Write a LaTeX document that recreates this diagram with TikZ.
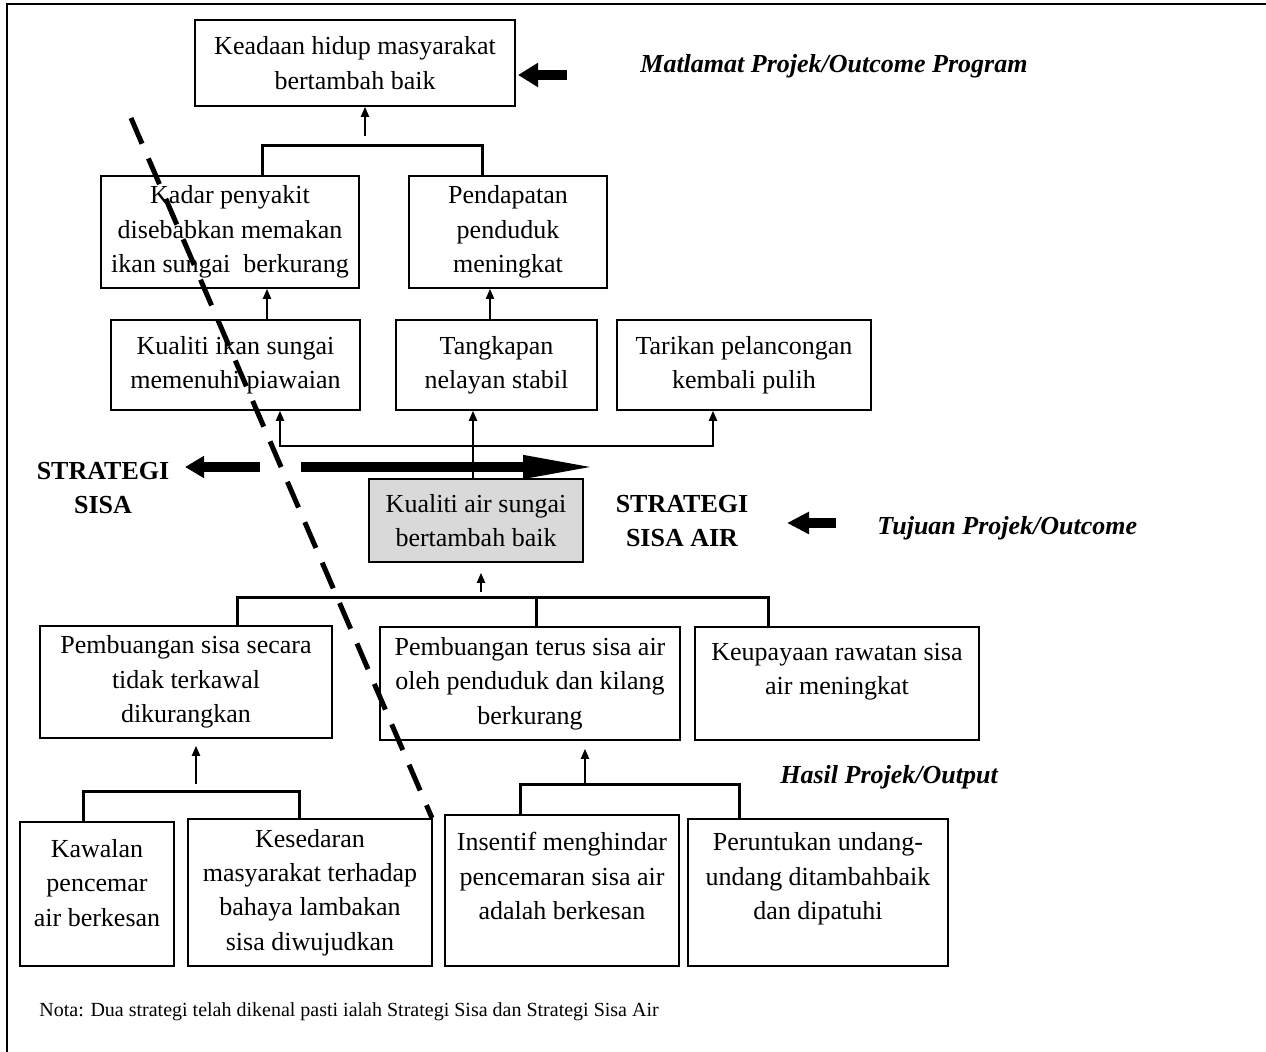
\documentclass[tikz,border=0pt]{standalone}
\usepackage{fontspec}
\setmainfont{Liberation Serif}
\usetikzlibrary{arrows.meta}
\definecolor{kelabu}{RGB}{217,217,217}
\newcommand{\ruangbawah}[1]{\rule[-#1]{0pt}{#1}}

\begin{document}
\begin{tikzpicture}[x=0.5pt, y=-0.5pt,
  kotak/.style={draw, line width=0.8pt, align=center, inner sep=0pt, font=\fontsize{13}{17.2}\selectfont},
  panah/.style={line width=1pt, -{Triangle[length=5pt,width=4pt]}},
  kurung/.style={line width=1.5pt},
  tebal/.style={line width=5pt},
  tajuk/.style={anchor=west, inner sep=0pt, font=\fontsize{13}{17.2}\selectfont\bfseries\itshape},
  strat/.style={align=center, inner sep=0pt, font=\fontsize{13}{17.2}\selectfont\bfseries}]
\useasboundingbox (0,0) rectangle (1266,1052);
\draw[line width=1pt] (1266,4) -- (7,4) -- (7,1052);

\node[kotak, minimum width=160pt, minimum height=43pt] (k0) at (355,63) {Keadaan hidup masyarakat\\bertambah baik};
\node[kotak, minimum width=129pt, minimum height=56pt] (k1) at (230,232) {Kadar penyakit\\disebabkan memakan\\ikan sungai\ \ berkurang};
\node[kotak, minimum width=99pt, minimum height=56pt] (k2) at (508,232) {Pendapatan\\penduduk\\meningkat};
\node[kotak, minimum width=124.5pt, minimum height=45pt] (k3) at (235.5,365) {Kualiti ikan sungai\\memenuhi piawaian};
\node[kotak, minimum width=100.5pt, minimum height=45pt] (k4) at (496.5,365) {Tangkapan\\nelayan stabil};
\node[kotak, minimum width=127pt, minimum height=45pt] (k5) at (744,365) {Tarikan pelancongan\\kembali pulih};
\node[kotak, fill=kelabu, minimum width=107pt, minimum height=41.5pt] (k6) at (476,520.5) {Kualiti air sungai\\bertambah baik};
\node[kotak, minimum width=146pt, minimum height=56pt] (k7) at (186,682) {Pembuangan sisa secara\\tidak terkawal\\dikurangkan};
\node[kotak, minimum width=150pt, minimum height=56.5pt] (k8) at (530,683.5) {Pembuangan terus sisa air\\oleh penduduk dan kilang\\berkurang};
\node[kotak, minimum width=142pt, minimum height=56.5pt] (k9) at (837,683.5) {Keupayaan rawatan sisa\\air meningkat\ruangbawah{14.8pt}};
\node[kotak, minimum width=77pt, minimum height=72pt] (k10) at (97,894) {Kawalan\\pencemar\\air berkesan\ruangbawah{11.2pt}};
\node[kotak, minimum width=122pt, minimum height=73.5pt] (k11) at (310,892.5) {Kesedaran\\masyarakat terhadap\\bahaya lambakan\\sisa diwujudkan};
\node[kotak, minimum width=117pt, minimum height=75.5pt] (k12) at (562,890.5) {Insentif menghindar\\pencemaran sisa air\\adalah berkesan\ruangbawah{14.6pt}};
\node[kotak, minimum width=130pt, minimum height=73.5pt] (k13) at (818,892.5) {Peruntukan undang-\\undang ditambahbaik\\dan dipatuhi\ruangbawah{16.3pt}};

\node[tajuk] (t0) at (640,66) {Matlamat Projek/Outcome Program};
\node[strat] (t1) at (103,488) {STRATEGI\\SISA};
\node[strat] (t2) at (682,521) {STRATEGI\\SISA AIR};
\node[tajuk] (t3) at (877,528) {Tujuan Projek/Outcome};
\node[tajuk] (t4) at (780,777) {Hasil Projek/Output};
\node[anchor=west, inner sep=0pt, font=\fontsize{10}{12}\selectfont] (t5) at (39,1012) {Nota: Dua strategi telah dikenal pasti ialah Strategi Sisa dan Strategi Sisa Air};

\coordinate (p0) at (365,136);
\coordinate (p1) at (473,446);
\coordinate (p2) at (481,592);
\coordinate (p3) at (196,784);
\coordinate (p4) at (585,785);
\coordinate (a0) at (567,75);
\coordinate (a1) at (518,75);
\coordinate (a2) at (260,467);
\coordinate (a3) at (185,467);
\coordinate (a4) at (301,467);
\coordinate (a5) at (598,467);
\coordinate (a6) at (836,523);
\coordinate (a7) at (787,523);
\coordinate (g0) at (131,118);
\coordinate (g1) at (432,818);

\draw[panah] (p0) -- (p0 |- k0.south);
\draw[kurung] (262,0 |- k1.north) |- (482,146) -- (482,0 |- k2.north);
\draw[panah] (267,0 |- k3.north) -- (267,0 |- k1.south);
\draw[panah] (490,0 |- k4.north) -- (490,0 |- k2.south);
\draw[panah] (p1 |- k6.north) -- (p1 |- k4.south);
\draw[panah] (p1) -| (280,0 |- k3.south);
\draw[panah] (p1) -| (713,0 |- k5.south);
\draw[kurung] (237,0 |- k7.north) |- (768,598) -- (768,0 |- k9.north);
\draw[kurung] (536,598) -- (536,0 |- k8.north);
\draw[panah, shorten >=5pt] (p2) -- (p2 |- k6.south);
\draw[kurung] (83,0 |- k10.north) |- (299,792) -- (299,0 |- k11.north);
\draw[panah, shorten >=3.5pt] (p3) -- (p3 |- k7.south);
\draw[kurung] (520,0 |- k12.north) |- (739,785) -- (739,0 |- k13.north);
\draw[panah, shorten >=4pt] (p4) -- (p4 |- k8.south);

\draw[tebal, -{Triangle[length=10pt,width=11.5pt]}] (a0) -- (a1);
\draw[tebal, -{Triangle[length=9.5pt,width=10.5pt]}] (a2) -- (a3);
\draw[tebal, -{Triangle[length=37.5pt,width=10.5pt]}] (a4) -- (a5);
\draw[tebal, -{Triangle[length=11pt,width=10.5pt]}] (a6) -- (a7);

\draw[line width=2.5pt, dash pattern=on 14pt off 8pt] (g0) -- (g1);
\end{tikzpicture}
\end{document}
